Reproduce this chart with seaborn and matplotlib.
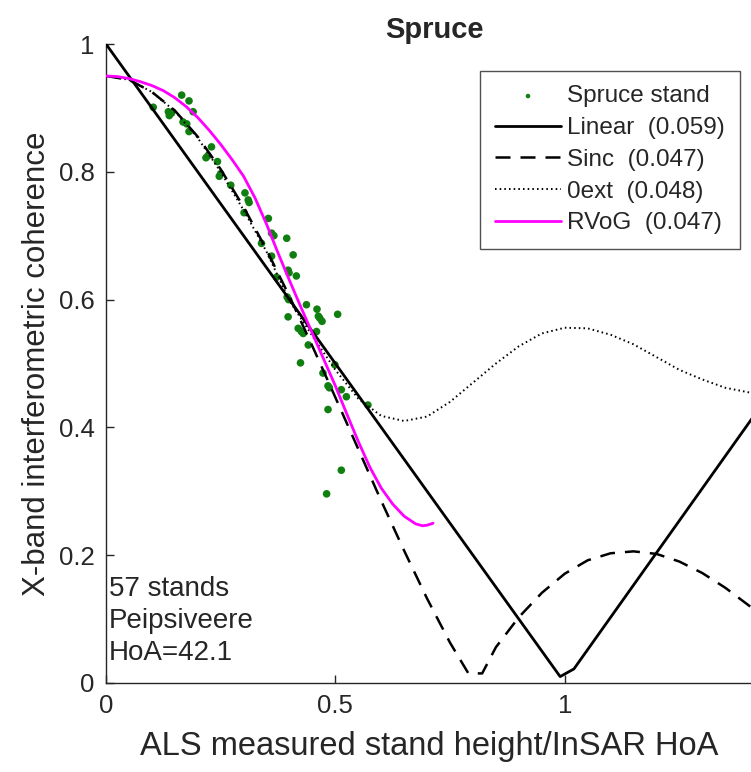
import matplotlib
matplotlib.use("Agg")
import matplotlib.pyplot as plt
import seaborn as sns

# -------------------------
# Data
# -------------------------
stand_x = [0.103, 0.136, 0.138, 0.165, 0.181, 0.190, 0.168, 0.181, 0.230, 0.218,
           0.243, 0.247, 0.272, 0.303, 0.310, 0.301, 0.354, 0.361, 0.394, 0.339,
           0.408, 0.361, 0.397, 0.415, 0.372, 0.395, 0.437, 0.460, 0.505, 0.397,
           0.466, 0.471, 0.419, 0.426, 0.459, 0.441, 0.424, 0.499, 0.473, 0.484,
           0.513, 0.524, 0.571, 0.484, 0.513, 0.481, 0.176, 0.143, 0.250, 0.430,
           0.463, 0.487, 0.366, 0.312, 0.399, 0.222, 0.398]
stand_y = [0.901, 0.894, 0.888, 0.920, 0.911, 0.894, 0.878, 0.863, 0.839, 0.822,
           0.816, 0.793, 0.779, 0.767, 0.756, 0.736, 0.727, 0.704, 0.696, 0.688,
           0.670, 0.668, 0.646, 0.637, 0.635, 0.604, 0.592, 0.585, 0.577, 0.573,
           0.571, 0.566, 0.555, 0.550, 0.550, 0.529, 0.501, 0.498, 0.485, 0.465,
           0.459, 0.448, 0.435, 0.428, 0.333, 0.296, 0.875, 0.892, 0.797, 0.547,
           0.574, 0.462, 0.700, 0.752, 0.642, 0.825, 0.600]

linear_x = [0.0, 0.99, 1.02, 1.434]
linear_y = [1.0, 0.01, 0.022, 0.44]

sinc_x = [0.0, 0.05, 0.1, 0.15, 0.2, 0.25, 0.3, 0.35, 0.4, 0.45, 0.5, 0.55, 0.6,
          0.65, 0.7, 0.75, 0.79, 0.82, 0.85, 0.9, 0.95, 1.0, 1.05, 1.1, 1.15,
          1.2, 1.25, 1.3, 1.35, 1.4, 1.434]
sinc_y = [0.95, 0.944, 0.925, 0.896, 0.855, 0.804, 0.745, 0.678, 0.605, 0.527,
          0.447, 0.366, 0.285, 0.207, 0.132, 0.063, 0.015, 0.015, 0.056, 0.103,
          0.141, 0.171, 0.192, 0.203, 0.206, 0.202, 0.190, 0.172, 0.149, 0.122,
          0.104]

zext_x = [0.0, 0.05, 0.1, 0.15, 0.2, 0.25, 0.3, 0.35, 0.4, 0.45, 0.5, 0.55, 0.6,
          0.65, 0.7, 0.75, 0.8, 0.85, 0.9, 0.95, 1.0, 1.05, 1.1, 1.15, 1.2,
          1.25, 1.3, 1.35, 1.4, 1.434]
zext_y = [0.95, 0.944, 0.925, 0.895, 0.853, 0.80, 0.74, 0.675, 0.598, 0.543,
          0.49, 0.445, 0.418, 0.41, 0.417, 0.44, 0.47, 0.50, 0.527, 0.547,
          0.556, 0.555, 0.545, 0.53, 0.51, 0.49, 0.475, 0.462, 0.455, 0.452]

rvog_x = [0.0, 0.025, 0.05, 0.075, 0.1, 0.125, 0.15, 0.175, 0.2, 0.225, 0.25,
          0.275, 0.3, 0.325, 0.35, 0.375, 0.4, 0.425, 0.45, 0.475, 0.5, 0.525,
          0.55, 0.575, 0.6, 0.625, 0.65, 0.675, 0.69, 0.70, 0.713]
rvog_y = [0.950, 0.949, 0.946, 0.941, 0.935, 0.927, 0.916, 0.902, 0.885, 0.865,
          0.843, 0.819, 0.793, 0.759, 0.718, 0.673, 0.630, 0.588, 0.547, 0.506,
          0.465, 0.421, 0.378, 0.338, 0.305, 0.280, 0.261, 0.249, 0.246, 0.247,
          0.250]

labels = ["Spruce stand", "Linear  (0.059)", "Sinc  (0.047)", "0ext  (0.048)", "RVoG  (0.047)"]

# -------------------------
# Plot
# -------------------------
sns.set_style("ticks")
plt.rcParams['font.family'] = ['Liberation Sans', 'DejaVu Sans']

fig = plt.figure(figsize=(7.51, 7.72), dpi=100)
ax = fig.add_axes([0.1411, 0.1153, 0.876, 0.8277])

sns.scatterplot(x=stand_x, y=stand_y, ax=ax, color='#0f7f0f', s=30,
                edgecolor='none', label=labels[0], zorder=2)
sns.lineplot(x=linear_x, y=linear_y, ax=ax, color='black', lw=2,
             sort=False, estimator=None, label=labels[1], zorder=3)
sns.lineplot(x=sinc_x, y=sinc_y, ax=ax, color='black', lw=1.8,
             sort=False, estimator=None, label=labels[2], zorder=3)
ax.lines[-1].set_dashes([6, 4])
sns.lineplot(x=zext_x, y=zext_y, ax=ax, color='black', lw=1.4,
             sort=False, estimator=None, label=labels[3], zorder=3)
ax.lines[-1].set_dashes([0.8, 1.6])
sns.lineplot(x=rvog_x, y=rvog_y, ax=ax, color='#ff00ff', lw=2,
             sort=False, estimator=None, label=labels[4], zorder=4)

ax.set_xlim(0, 1.434)
ax.set_ylim(0, 1)
ax.set_xticks([0, 0.5, 1])
ax.set_xticklabels(['0', '0.5', '1'])
ax.set_yticks([0, 0.2, 0.4, 0.6, 0.8, 1])
ax.set_yticklabels(['0', '0.2', '0.4', '0.6', '0.8', '1'])
ax.tick_params(direction='in', length=6, width=1, labelsize=18.5, colors='#262626', pad=8)
for s in ['top', 'right']:
    ax.spines[s].set_visible(False)
for s in ['left', 'bottom']:
    ax.spines[s].set_color('#262626')
    ax.spines[s].set_linewidth(1)

ax.set_xlabel("ALS measured stand height/InSAR HoA", fontsize=23.5, color='#262626', labelpad=9)
ax.xaxis.label.set_x(0.492)
ax.set_ylabel("X-band interferometric coherence", fontsize=22.5, color='#262626', labelpad=5)
ax.set_title("Spruce", fontsize=21, fontweight='bold', pad=0)

ax.text(0.004, 0.027, "57 stands\nPeipsiveere\nHoA=42.1", transform=ax.transAxes,
        fontsize=20, va='bottom', ha='left', linespacing=1.3)

leg = ax.legend(loc='upper right', bbox_to_anchor=(0.9635, 0.958), borderaxespad=0,
                fontsize=17.5, frameon=True, fancybox=False, handlelength=2.75,
                handletextpad=0.25, borderpad=0.6, labelspacing=0.4, markerscale=0.6)
leg.get_frame().set_edgecolor('#262626')
leg.get_frame().set_linewidth(1)

fig.savefig("out.png", dpi=100)
